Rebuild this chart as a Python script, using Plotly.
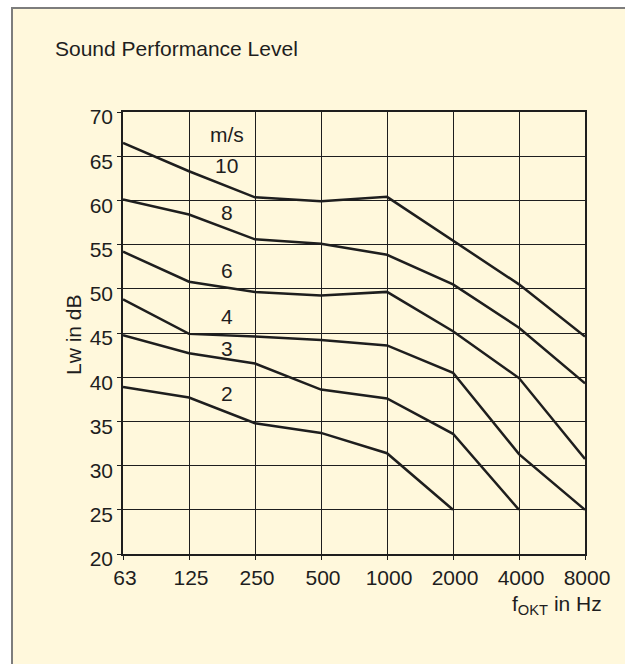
import plotly.graph_objects as go

# ---- data ----
frequencies = ["63", "125", "250", "500", "1000", "2000", "4000", "8000"]
speeds = ["10", "8", "6", "4", "3", "2"]
lw_10 = [66.5, 63.3, 60.35, 59.9, 60.4, 55.5, 50.5, 44.6]
lw_8 = [60.1, 58.4, 55.6, 55.1, 53.85, 50.5, 45.6, 39.3]
lw_6 = [54.2, 50.8, 49.65, 49.25, 49.65, 45.2, 39.9, 30.75]
lw_4 = [48.8, 44.9, 44.6, 44.2, 43.6, 40.5, 31.3, 25.0]
lw_3 = [44.75, 42.7, 41.55, 38.6, 37.6, 33.6, 25.0]
lw_2 = [38.9, 37.7, 34.8, 33.7, 31.4, 25.0]
series = [lw_10, lw_8, lw_6, lw_4, lw_3, lw_2]
y_ticks = [20, 25, 30, 35, 40, 45, 50, 55, 60, 65, 70]

# label placement (style)
label_x = 1.57
label_y = {"m/s": 67.4, "10": 63.9, "8": 58.6, "6": 52.1, "4": 46.9, "3": 43.3, "2": 38.2}

CREAM = "#FFF8DC"
INK = "#1e1e1e"
FONT = "Arial, Liberation Sans, sans-serif"
FS = 21

fig = go.Figure()
for name, vals in zip(speeds, series):
    fig.add_trace(go.Scatter(
        x=frequencies[:len(vals)], y=vals, mode="lines", name=name,
        line=dict(color=INK, width=2.5), showlegend=False, hoverinfo="skip"))

# final figure placed at page origin (body margin removed in post_script)
W, H = 625, 664
# plot area in page pixels: x 123..585, y 112..554
L, R, T, B = 123, 585, 112, 554
def px(xp):
    return (xp - L) / (R - L)
def py(yp):
    return (B - yp) / (B - T)

shapes = [
    dict(type="rect", xref="paper", yref="paper", x0=px(-5), x1=px(11),
         y0=py(720), y1=py(-5), fillcolor="white", line=dict(width=0), layer="above"),
    dict(type="rect", xref="paper", yref="paper", x0=px(-5), x1=px(720),
         y0=py(7), y1=py(-5), fillcolor="white", line=dict(width=0), layer="above"),
    dict(type="line", xref="paper", yref="paper", x0=px(12), x1=px(12),
         y0=py(7), y1=py(720), line=dict(color="#7d7d7d", width=2), layer="above"),
    dict(type="line", xref="paper", yref="paper", x0=px(11), x1=px(720),
         y0=py(8), y1=py(8), line=dict(color="#7d7d7d", width=2), layer="above"),
]

annotations = []
for txt, yy in label_y.items():
    annotations.append(dict(x=label_x, y=yy, xref="x", yref="y", text=txt,
                            showarrow=False, font=dict(family=FONT, size=FS, color=INK)))
annotations.append(dict(x=px(53), y=py(48), xref="paper", yref="paper",
                        text="Sound Performance Level", showarrow=False,
                        xanchor="left", yanchor="middle",
                        font=dict(family=FONT, size=FS, color=INK)))
annotations.append(dict(x=px(604), y=py(605), xref="paper", yref="paper",
                        text="f<sub>OKT</sub> in Hz", showarrow=False,
                        xanchor="right", yanchor="middle",
                        font=dict(family=FONT, size=FS, color=INK)))
annotations.append(dict(x=px(73), y=py(335), xref="paper", yref="paper",
                        text="Lw in dB", showarrow=False, textangle=-90,
                        xanchor="center", yanchor="middle",
                        font=dict(family=FONT, size=FS, color=INK)))

# initial size fits inside the window even with the default 8px body margin
fig.update_layout(
    width=W - 16, height=H - 16,
    margin=dict(l=L, r=W - R, t=T, b=H - B, pad=0),
    paper_bgcolor=CREAM, plot_bgcolor=CREAM,
    shapes=shapes, annotations=annotations,
    font=dict(family=FONT, size=FS, color=INK),
)
fig.update_xaxes(type="category", categoryorder="array", categoryarray=frequencies,
                 range=[0, 7], showgrid=True, gridcolor=INK, gridwidth=1.4,
                 showline=True, linecolor=INK, linewidth=1.6, mirror=True,
                 ticks="outside", ticklen=4, tickcolor=INK, tickwidth=1.4,
                 ticklabelshift=2,
                 tickfont=dict(family=FONT, size=FS, color=INK), zeroline=False)
fig.update_yaxes(range=[20, 70], tickvals=y_ticks, showgrid=True, gridcolor=INK,
                 gridwidth=1.4, showline=True, linecolor=INK, linewidth=1.6,
                 mirror=True, ticks="outside", ticklen=4, tickcolor=INK, tickwidth=1.4,
                 ticklabelshift=5,
                 tickfont=dict(family=FONT, size=FS, color=INK), zeroline=False)

post = (
    "document.documentElement.style.overflow='hidden';"
    "document.body.style.overflow='hidden';"
    "document.body.style.margin='0';"
    "var gd=document.getElementById('{plot_id}');"
    "gd.style.width='%dpx';gd.style.height='%dpx';"
    "Plotly.relayout(gd,{width:%d,height:%d});" % (W, H, W, H)
)
fig.write_html("out.html", config={"displayModeBar": False}, post_script=post)
